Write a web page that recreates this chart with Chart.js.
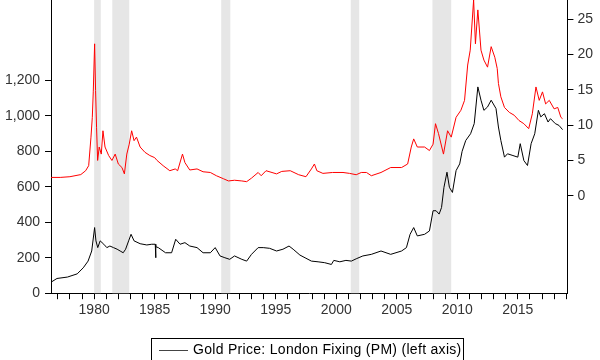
<!DOCTYPE html>
<html>
<head>
<meta charset="utf-8">
<script src="https://cdn.jsdelivr.net/npm/chart.js@4.4.0/dist/chart.umd.min.js"></script>
<style>
    html, body { margin: 0; padding: 0; background: #fff; }
    #wrap { width: 600px; height: 360px; }
</style>
</head>
<body>
<div id="wrap"><canvas id="goldChart"></canvas></div>
<script>
// gold price, GBP per ounce (left axis)
const goldYears = [1976.44, 1976.93, 1977.8, 1978.6, 1979.1, 1979.5, 1979.8, 1980.04, 1980.15, 1980.3, 1980.5, 1980.8,
    1981.05, 1981.3, 1981.6, 1981.9, 1982.15, 1982.4, 1982.6, 1982.85, 1983.05, 1983.3, 1983.8, 1984.35, 1984.76,
    1985.05, 1985.08, 1985.11, 1985.3, 1985.9, 1986.4, 1986.74, 1987.1, 1987.5, 1987.9, 1988.5, 1989.0, 1989.6,
    1990.0, 1990.4, 1990.8, 1991.2, 1991.6, 1992.2, 1992.6, 1993.0, 1993.55, 1993.97, 1994.5, 1995.07, 1995.6,
    1996.1, 1996.44, 1997.0, 1997.5, 1997.95, 1998.5, 1999.05, 1999.6, 1999.8, 2000.3, 2000.8, 2001.25, 2001.65,
    2002.2, 2002.9, 2003.7, 2004.5, 2005.4, 2005.8, 2006.1, 2006.4, 2006.7, 2007.3, 2007.7, 2008.0, 2008.25,
    2008.5, 2008.7, 2008.9, 2009.15, 2009.35, 2009.6, 2009.9, 2010.2, 2010.4, 2010.7, 2011.1, 2011.4, 2011.7,
    2011.96, 2012.2, 2012.5, 2012.8, 2013.2, 2013.4, 2013.6, 2013.9, 2014.15, 2014.6, 2015.0, 2015.2, 2015.5,
    2015.8, 2016.1, 2016.4, 2016.7, 2016.9, 2017.2, 2017.5, 2017.7, 2018.1, 2018.4, 2018.7];
const goldValues = [62, 83, 91, 109, 143, 181, 238, 370, 295, 257, 295, 276,
    257, 266, 257, 248, 238, 228, 248, 295, 332, 295, 279, 272, 276,
    276, 200, 262, 257, 228, 228, 304, 276, 285, 266, 257, 228, 228,
    257, 210, 200, 191, 210, 191, 181, 219, 257, 257, 253, 238, 248,
    266, 248, 215, 197, 181, 177, 172, 162, 185, 177, 185, 181, 194,
    210, 219, 238, 219, 238, 257, 332, 370, 323, 332, 351, 465, 465,
    446, 483, 597, 682, 597, 568, 691, 729, 800, 861, 899, 956, 1163,
    1088, 1031, 1050, 1088, 1041, 937, 861, 767, 786, 776, 767, 843, 748,
    720, 843, 899, 1031, 994, 1012, 965, 984, 956, 946, 922];

// second series (right axis)
const redYears = [1976.44, 1977.2, 1978.0, 1978.9, 1979.3, 1979.55, 1979.74, 1979.85, 1979.93, 1980.04, 1980.12, 1980.2,
    1980.29, 1980.42, 1980.59, 1980.73, 1980.9, 1981.2, 1981.47, 1981.74, 1982.0, 1982.3, 1982.5, 1982.7, 1982.9,
    1983.1, 1983.3, 1983.5, 1983.8, 1984.2, 1984.6, 1985.0, 1985.2, 1985.7, 1986.25, 1986.7, 1986.9, 1987.3,
    1987.5, 1987.9, 1988.5, 1989.0, 1989.6, 1990.1, 1990.7, 1991.1, 1991.6, 1992.2, 1992.6, 1993.0, 1993.55,
    1993.8, 1994.2, 1995.07, 1995.5, 1996.2, 1996.9, 1997.5, 1997.95, 1998.2, 1998.4, 1998.9, 1999.7, 2000.56,
    2001.1, 2001.65, 2002.07, 2002.5, 2002.9, 2003.7, 2004.5, 2005.4, 2005.9, 2006.2, 2006.4, 2006.7, 2007.3,
    2007.7, 2008.0, 2008.2, 2008.45, 2008.86, 2009.2, 2009.5, 2009.9, 2010.3, 2010.6, 2010.86, 2011.07, 2011.35,
    2011.5, 2011.7, 2011.96, 2012.2, 2012.5, 2012.8, 2013.1, 2013.3, 2013.4, 2013.6, 2013.9, 2014.3, 2014.7,
    2015.1, 2015.5, 2015.9, 2016.2, 2016.5, 2016.77, 2017.04, 2017.3, 2017.6, 2018.0, 2018.3, 2018.56, 2018.7];
const redValues = [2.6, 2.6, 2.7, 3.0, 3.55, 4.26, 8.3, 11.1, 14.7, 21.5, 14.9, 9.7,
    5.0, 6.9, 5.9, 9.2, 6.9, 5.7, 5.0, 5.9, 4.5, 4.0, 3.1, 5.9, 7.3,
    9.2, 7.8, 8.3, 6.9, 6.15, 5.7, 5.4, 5.0, 4.26, 3.55, 3.8, 3.55, 5.9,
    4.7, 3.65, 3.8, 3.4, 3.3, 2.84, 2.4, 2.1, 2.2, 2.1, 2.0, 2.5, 3.3,
    2.84, 3.55, 3.1, 3.45, 3.55, 2.98, 2.7, 3.8, 4.5, 3.55, 3.17, 3.3, 3.3,
    3.17, 2.98, 3.3, 3.3, 2.84, 3.3, 4.0, 4.0, 4.5, 6.9, 8.05, 6.9, 6.9,
    6.4, 7.3, 10.2, 8.8, 5.9, 9.2, 8.3, 11.1, 12.1, 13.5, 18.5, 20.6, 27.7,
    21.5, 26.3, 20.6, 19.2, 18.2, 21.1, 19.6, 18.0, 15.9, 14.0, 12.5, 11.8, 11.4,
    10.65, 10.2, 9.5, 11.6, 15.4, 13.5, 14.7, 13.0, 13.5, 12.3, 12.5, 11.1, 10.9];

// NBER recessions (shaded)
const recStart = [1980.0, 1981.5, 1990.5, 2001.2, 2007.95];
const recEnd = [1980.55, 1982.9, 1991.25, 2001.9, 2009.5];

const leftTicks = [0, 200, 400, 600, 800, 1000, 1200];
const rightTicks = [0, 5, 10, 15, 20, 25];
const xTicks = [];
for (let y = 1977; y <= 2019; y++) xTicks.push(y);

const toPoints = (xs, ys) => xs.map((x, i) => ({ x: x, y: ys[i] }));

// plot area runs to the very top of the canvas, like the cropped original
const noEdgePadding = axis => { axis.paddingTop = 0; axis.paddingBottom = 0; };

const recessionBands = {
    id: 'recessionBands',
    beforeDatasetsDraw(chart) {
        const { ctx, chartArea, scales } = chart;
        ctx.save();
        ctx.fillStyle = '#e6e6e6';
        recStart.forEach((s, i) => {
            const x1 = scales.x.getPixelForValue(s);
            const x2 = scales.x.getPixelForValue(recEnd[i]);
            ctx.fillRect(x1, chartArea.top, x2 - x1, chartArea.bottom - chartArea.top);
        });
        ctx.restore();
    }
};

const boxLegend = {
    id: 'boxLegend',
    afterDraw(chart) {
        const ctx = chart.ctx;
        const label = chart.data.datasets[0].label;
        ctx.save();
        ctx.strokeStyle = '#000';
        ctx.lineWidth = 1;
        ctx.strokeRect(151.5, 338.5, 312, 30);
        ctx.beginPath();
        ctx.moveTo(159, 350.5);
        ctx.lineTo(188, 350.5);
        ctx.strokeStyle = '#444';
        ctx.stroke();
        ctx.fillStyle = '#000';
        ctx.font = "14px 'Liberation Sans', Arial, sans-serif";
        ctx.letterSpacing = '0.3px';
        ctx.textBaseline = 'middle';
        ctx.fillText(label, 193, 350);
        ctx.restore();
    }
};

Chart.defaults.font.family = "'Liberation Sans', Arial, sans-serif";
Chart.defaults.font.size = 14;
Chart.defaults.color = '#333';

new Chart(document.getElementById('goldChart').getContext('2d'), {
    type: 'line',
    data: {
        datasets: [
            {
                label: 'Gold Price: London Fixing (PM) (left axis)',
                data: toPoints(goldYears, goldValues),
                borderColor: '#000',
                borderWidth: 1,
                pointRadius: 0,
                yAxisID: 'y'
            },
            {
                label: 'right axis',
                data: toPoints(redYears, redValues),
                borderColor: '#ff0000',
                borderWidth: 1,
                pointRadius: 0,
                yAxisID: 'y2'
            }
        ]
    },
    options: {
        responsive: true,
        maintainAspectRatio: false,
        animation: false,
        layout: { padding: { left: 0, right: 3, top: 0, bottom: 38 } },
        plugins: {
            legend: { display: false },
            tooltip: { enabled: false }
        },
        scales: {
            x: {
                type: 'linear',
                min: 1976.44,
                max: 2019.1,
                afterBuildTicks: axis => { axis.ticks = xTicks.map(v => ({ value: v })); },
                ticks: {
                    autoSkip: false,
                    maxRotation: 0,
                    padding: 3,
                    callback: v => (v % 5 === 0 ? String(v) : '')
                },
                grid: { drawOnChartArea: false, tickLength: 6, tickColor: '#000' },
                border: { color: '#000' }
            },
            y: {
                position: 'left',
                min: 0,
                max: 1653,
                afterBuildTicks: axis => { axis.ticks = leftTicks.map(v => ({ value: v })); },
                afterFit: noEdgePadding,
                ticks: {
                    padding: 5,
                    callback: v => v.toLocaleString('en-US')
                },
                grid: { drawOnChartArea: false, tickLength: 6, tickColor: '#000' },
                border: { color: '#000' }
            },
            y2: {
                position: 'right',
                min: -13.78,
                max: 27.7,
                afterBuildTicks: axis => { axis.ticks = rightTicks.map(v => ({ value: v })); },
                afterFit: noEdgePadding,
                ticks: { padding: 4 },
                grid: { drawOnChartArea: false, tickLength: 6, tickColor: '#000' },
                border: { color: '#000' }
            }
        }
    },
    plugins: [recessionBands, boxLegend]
});
</script>
</body>
</html>
